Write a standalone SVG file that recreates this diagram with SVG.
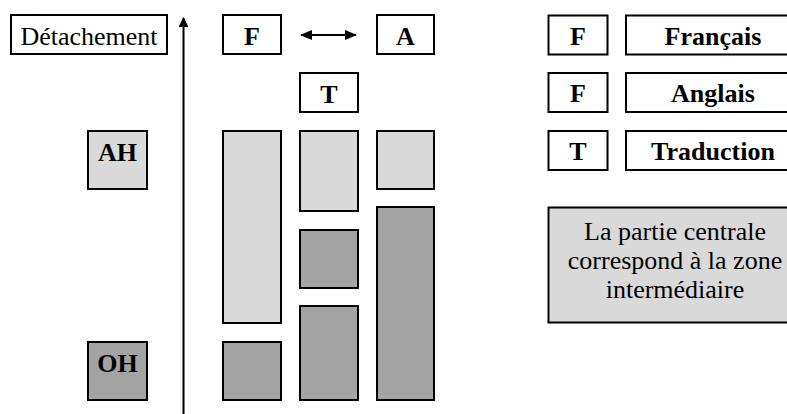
<svg xmlns="http://www.w3.org/2000/svg" width="787" height="414" viewBox="0 0 787 414">
<style>
.box{stroke:#000;stroke-width:2;fill:#fff}
.light{stroke:#000;stroke-width:2;fill:#d9d9d9}
.dark{stroke:#000;stroke-width:2;fill:#a3a3a3}
.conn{stroke:#000;stroke-width:2;fill:none}
</style>
<defs>
<marker id="ah" viewBox="0 0 10 10" refX="9" refY="5" markerWidth="10" markerHeight="10" markerUnits="userSpaceOnUse" orient="auto-start-reverse">
<path d="M0,0 L10,5 L0,10 Z" fill="#000"/>
</marker>
<marker id="ah2" viewBox="0 0 12 10" refX="11" refY="5" markerWidth="12" markerHeight="10" markerUnits="userSpaceOnUse" orient="auto-start-reverse">
<path d="M0,0 L12,5 L0,10 Z" fill="#000"/>
</marker>
</defs>
<rect width="787" height="414" fill="#fff"/>
<g id="connectors">
<line class="conn" x1="183.5" y1="414" x2="183.5" y2="18" marker-end="url(#ah)"/>
<line class="conn" x1="301" y1="35" x2="356" y2="35" marker-start="url(#ah2)" marker-end="url(#ah2)"/>
</g>
<g id="detachement">
<rect class="box" x="11" y="15" width="156" height="39"/>
<text font-family="Liberation Serif, serif" font-size="26" text-anchor="middle" x="89" y="45">Détachement</text>
</g>
<g id="node-F">
<rect class="box" x="223" y="15" width="58" height="39"/>
<text font-family="Liberation Serif, serif" font-size="26" font-weight="bold" text-anchor="middle" x="252" y="45">F</text>
</g>
<g id="node-A">
<rect class="box" x="377" y="15" width="57" height="39"/>
<text font-family="Liberation Serif, serif" font-size="26" font-weight="bold" text-anchor="middle" x="405.5" y="45">A</text>
</g>
<g id="node-T">
<rect class="box" x="300" y="73" width="58" height="39"/>
<text font-family="Liberation Serif, serif" font-size="26" font-weight="bold" text-anchor="middle" x="329" y="103">T</text>
</g>
<g id="node-AH">
<rect class="light" x="88" y="131" width="59" height="58"/>
<text font-family="Liberation Serif, serif" font-size="26" font-weight="bold" text-anchor="middle" x="117.5" y="161">AH</text>
</g>
<g id="node-OH">
<rect class="dark" x="88" y="342" width="59" height="58"/>
<text font-family="Liberation Serif, serif" font-size="26" font-weight="bold" text-anchor="middle" x="117.5" y="372">OH</text>
</g>
<g id="col1">
<rect class="light" x="223" y="131" width="58" height="192"/>
<rect class="dark" x="223" y="342" width="58" height="58"/>
</g>
<g id="col2">
<rect class="light" x="300" y="131" width="58" height="80"/>
<rect class="dark" x="300" y="230" width="58" height="58"/>
<rect class="dark" x="300" y="306" width="58" height="94"/>
</g>
<g id="col3">
<rect class="light" x="377" y="131" width="57" height="58"/>
<rect class="dark" x="377" y="207" width="57" height="193"/>
</g>
<g id="legend-francais">
<rect class="box" x="548.5" y="15.5" width="59" height="39"/>
<text font-family="Liberation Serif, serif" font-size="26" font-weight="bold" text-anchor="middle" x="578" y="45">F</text>
<rect class="box" x="626" y="15.5" width="174" height="39"/>
<text font-family="Liberation Serif, serif" font-size="26" font-weight="bold" text-anchor="middle" x="713" y="45">Français</text>
</g>
<g id="legend-anglais">
<rect class="box" x="548.5" y="73" width="59" height="39"/>
<text font-family="Liberation Serif, serif" font-size="26" font-weight="bold" text-anchor="middle" x="578" y="102">F</text>
<rect class="box" x="626" y="73" width="174" height="39"/>
<text font-family="Liberation Serif, serif" font-size="26" font-weight="bold" text-anchor="middle" x="713" y="102">Anglais</text>
</g>
<g id="legend-traduction">
<rect class="box" x="548.5" y="131" width="59" height="39"/>
<text font-family="Liberation Serif, serif" font-size="26" font-weight="bold" text-anchor="middle" x="578" y="160">T</text>
<rect class="box" x="626" y="131" width="174" height="39"/>
<text font-family="Liberation Serif, serif" font-size="26" font-weight="bold" text-anchor="middle" x="713" y="160">Traduction</text>
</g>
<g id="note">
<rect class="light" x="548.5" y="207.5" width="254" height="115"/>
<text font-family="Liberation Serif, serif" font-size="26" text-anchor="middle" x="675" y="240">La partie centrale</text>
<text font-family="Liberation Serif, serif" font-size="26" text-anchor="middle" x="675" y="269">correspond à la zone</text>
<text font-family="Liberation Serif, serif" font-size="26" text-anchor="middle" x="675" y="298">intermédiaire</text>
</g>
</svg>
